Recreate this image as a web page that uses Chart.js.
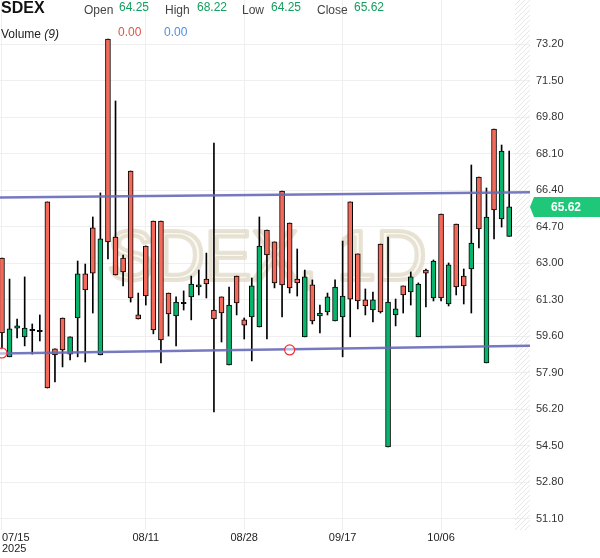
<!DOCTYPE html>
<html>
<head>
<meta charset="utf-8">
<script src="https://cdn.jsdelivr.net/npm/chart.js@4.4.1/dist/chart.umd.min.js"></script>
<style>
    html, body { margin: 0; padding: 0; background: #fff; }
    #wrap { position: relative; width: 600px; height: 558px; font-family: Arial, "Liberation Sans", sans-serif; }
    #grafica { position: absolute; left: 0; top: 0; }
    .hd { position: absolute; white-space: nowrap; font-size: 12px; line-height: 12px; color: #444; pointer-events: none; }
    .sym { font-size: 16px; line-height: 16px; font-weight: bold; color: #111; }
    .up { color: #12a05c; }
    .rojo { color: #e0533f; }
    .azul { color: #4c8fe8; }
</style>
</head>
<body>
<div id="wrap">
    <canvas id="grafica" width="600" height="558"></canvas>
    <div class="hd sym" style="left:1px; top:0px;">SDEX</div>
    <div class="hd" style="left:84px; top:4px;">Open</div>
    <div class="hd up" style="left:119px; top:1px;">64.25</div>
    <div class="hd" style="left:165px; top:4px;">High</div>
    <div class="hd up" style="left:197px; top:1px;">68.22</div>
    <div class="hd" style="left:242px; top:4px;">Low</div>
    <div class="hd up" style="left:271px; top:1px;">64.25</div>
    <div class="hd" style="left:317px; top:4px;">Close</div>
    <div class="hd up" style="left:354px; top:1px;">65.62</div>
    <div class="hd" style="left:1px; top:28px; color:#222;">Volume <i>(9)</i></div>
    <div class="hd rojo" style="left:118px; top:26px;">0.00</div>
    <div class="hd azul" style="left:164px; top:26px;">0.00</div>
</div>
<script>
// Datos (velas diarias)
const fechas = [
    "07/15", "07/16", "07/17", "07/18", "07/21", "07/22", "07/23", "07/24", "07/25", "07/28",
    "07/29", "07/30", "07/31", "08/01", "08/04", "08/05", "08/06", "08/07", "08/08", "08/11",
    "08/12", "08/13", "08/14", "08/15", "08/18", "08/19", "08/20", "08/21", "08/22", "08/25",
    "08/26", "08/27", "08/28", "08/29", "09/02", "09/03", "09/04", "09/05", "09/08", "09/09",
    "09/10", "09/11", "09/12", "09/15", "09/16", "09/17", "09/18", "09/19", "09/22", "09/23",
    "09/24", "09/25", "09/26", "09/29", "09/30", "10/01", "10/02", "10/03", "10/06", "10/07",
    "10/08", "10/09", "10/10", "10/13", "10/14", "10/15", "10/16", "10/17"
];
const aperturas = [
    63.24, 58.64, 59.98, 59.57, 59.89, 59.84, 65.85, 59.01, 60.45, 58.77,
    60.45, 62.50, 64.64, 58.73, 73.43, 64.22, 63.24, 67.29, 60.59, 63.80,
    64.96, 64.96, 61.61, 60.54, 61.15, 61.43, 61.89, 62.26, 60.82, 61.43,
    58.26, 62.40, 60.36, 60.50, 60.03, 64.54, 63.99, 66.36, 64.87, 62.26,
    59.57, 61.99, 60.54, 60.73, 60.31, 60.50, 65.85, 63.43, 61.29, 60.82,
    63.89, 54.45, 60.59, 61.94, 61.66, 59.57, 62.68, 61.38, 65.29, 61.10,
    64.82, 62.40, 62.73, 67.01, 58.36, 69.24, 65.06, 64.25
];
const maximos = [
    63.24, 62.26, 60.40, 62.36, 60.17, 60.59, 65.85, 59.01, 60.45, 59.57,
    63.10, 62.96, 65.15, 66.27, 73.43, 70.55, 63.38, 67.29, 61.61, 63.80,
    64.96, 64.96, 61.61, 61.43, 61.71, 62.40, 62.68, 63.47, 68.59, 61.43,
    61.89, 62.40, 60.45, 62.31, 65.15, 64.54, 63.99, 66.36, 64.87, 63.66,
    62.68, 62.22, 61.05, 61.61, 62.22, 64.03, 65.85, 63.43, 61.80, 61.66,
    63.89, 64.22, 61.33, 61.94, 62.59, 62.08, 62.73, 63.15, 65.29, 63.01,
    64.82, 62.73, 67.57, 67.01, 66.50, 69.24, 68.50, 68.22
];
const minimos = [
    59.01, 58.64, 59.52, 59.15, 58.77, 59.38, 57.19, 57.47, 58.17, 58.50,
    58.64, 58.40, 60.68, 58.73, 63.20, 62.45, 61.94, 61.19, 60.40, 61.05,
    59.71, 58.36, 59.61, 59.15, 60.82, 60.36, 61.52, 61.38, 56.08, 59.33,
    58.26, 60.59, 59.47, 58.45, 60.03, 59.47, 61.85, 60.50, 61.61, 61.47,
    59.57, 60.17, 59.75, 60.59, 60.31, 58.64, 59.57, 60.87, 60.59, 60.26,
    60.68, 54.45, 60.08, 60.68, 61.05, 59.57, 60.96, 61.24, 61.24, 61.01,
    61.52, 61.10, 60.68, 63.71, 58.36, 64.13, 64.68, 64.25
];
const cierres = [
    59.75, 59.94, 60.08, 59.98, 59.89, 59.84, 57.19, 58.73, 58.96, 59.57,
    62.50, 61.75, 62.54, 64.13, 63.99, 62.45, 62.59, 61.38, 60.40, 61.47,
    59.89, 59.43, 60.64, 61.19, 61.15, 62.03, 61.99, 62.03, 60.40, 60.68,
    61.05, 61.15, 60.12, 61.94, 63.80, 63.38, 62.08, 61.99, 61.85, 62.08,
    62.36, 60.31, 60.68, 61.43, 61.89, 61.47, 61.33, 61.24, 61.01, 61.29,
    60.73, 61.19, 60.87, 61.52, 62.36, 62.03, 62.54, 63.10, 61.38, 62.92,
    61.89, 61.94, 63.94, 64.59, 65.15, 65.48, 68.22, 65.62
];

// Etiquetas de ejes
const indicesFecha = [0, 19, 32, 45, 58];
const etiquetasFecha = [["07/15", "2025"], "08/11", "08/28", "09/17", "10/06"];
const ticksPrecio = [51.10, 52.80, 54.50, 56.20, 57.90, 59.60, 61.30, 63.00, 64.70, 66.40, 68.10, 69.80, 71.50, 73.20];

// Líneas de tendencia (extremo izquierdo, extremo derecho)
const lineaSuperior = [66.06, 66.30];
const lineaInferior = [58.80, 59.16];
// Puntos de anclaje (círculos rojos)
const anclaIndices = [0, 38];
const anclaValores = [58.82, 58.96];

const xMin = -0.26;
const xMax = 69.75;
const yMin = 50.58;
const yMax = 75.25;

const VERDE = "#06b46b";
const ROJO = "#f4695a";

const ultimoCierre = cierres[cierres.length - 1];

const mechas = fechas.map((f, i) => ({ x: i, y: [minimos[i], maximos[i]] }));
const cuerpos = fechas.map((f, i) => {
    const o = aperturas[i], c = cierres[i];
    return { x: i, y: o === c ? [o - 0.03, o + 0.03] : [o, c] };
});

function colorCuerpo(ctx) {
    const i = ctx.dataIndex;
    if (aperturas[i] === cierres[i]) return "#000";
    return cierres[i] > aperturas[i] ? VERDE : ROJO;
}

// Fondo: marca de agua y zona rayada
const fondoPlugin = {
    id: "fondo",
    beforeDatasetsDraw(chart) {
        const { ctx, chartArea } = chart;
        ctx.save();
        ctx.beginPath();
        ctx.rect(chartArea.left, chartArea.top, chartArea.right - chartArea.left, chartArea.bottom - chartArea.top);
        ctx.clip();
        // zona rayada a la derecha
        const x0 = chartArea.right - 15;
        ctx.strokeStyle = "#e6e6e6";
        ctx.lineWidth = 1;
        for (let y = chartArea.top - 20; y < chartArea.bottom + 20; y += 5) {
            ctx.beginPath();
            ctx.moveTo(x0, y + 15);
            ctx.lineTo(chartArea.right, y);
            ctx.stroke();
        }
        // marca de agua
        ctx.font = "70px Arial, 'Liberation Sans', sans-serif";
        ctx.textAlign = "center";
        ctx.textBaseline = "alphabetic";
        ctx.lineJoin = "round";
        ctx.fillStyle = "rgba(246,243,235,0.6)";
        ctx.fillText("SDEX, 1D", 267, 280);
        ctx.strokeStyle = "rgba(222,215,195,0.7)";
        ctx.lineWidth = 4;
        ctx.strokeText("SDEX, 1D", 267, 280);
        ctx.restore();
    },
    afterDraw(chart) {
        // etiqueta del último precio
        const { ctx, chartArea, scales } = chart;
        const y = scales.y.getPixelForValue(ultimoCierre);
        const x = chartArea.right;
        ctx.save();
        ctx.fillStyle = "#1ec878";
        ctx.beginPath();
        ctx.moveTo(x, y);
        ctx.lineTo(x + 4, y - 10);
        ctx.lineTo(600, y - 10);
        ctx.lineTo(600, y + 10);
        ctx.lineTo(x + 4, y + 10);
        ctx.closePath();
        ctx.fill();
        ctx.fillStyle = "#fff";
        ctx.font = "bold 12px Arial, 'Liberation Sans', sans-serif";
        ctx.textAlign = "center";
        ctx.textBaseline = "middle";
        ctx.fillText(ultimoCierre.toFixed(2), x + 36, y + 1);
        ctx.restore();
    }
};

const ctx = document.getElementById("grafica").getContext("2d");

new Chart(ctx, {
    type: "bar",
    data: {
        datasets: [
            {
                label: "wick",
                data: mechas,
                backgroundColor: "#000",
                borderWidth: 0,
                barThickness: 1,
                grouped: false,
                order: 3
            },
            {
                label: "body",
                data: cuerpos,
                backgroundColor: colorCuerpo,
                borderColor: "#000",
                borderWidth: 1,
                borderSkipped: false,
                barThickness: 5,
                grouped: false,
                order: 2
            },
            {
                type: "line",
                label: "upper",
                data: [{ x: xMin, y: lineaSuperior[0] }, { x: xMax, y: lineaSuperior[1] }],
                borderColor: "rgba(104,106,184,0.9)",
                borderWidth: 2.5,
                pointRadius: 0,
                order: 1
            },
            {
                type: "line",
                label: "lower",
                data: [{ x: xMin, y: lineaInferior[0] }, { x: xMax, y: lineaInferior[1] }],
                borderColor: "rgba(104,106,184,0.9)",
                borderWidth: 2.5,
                pointRadius: 0,
                order: 1
            },
            {
                type: "line",
                label: "anchors",
                data: anclaIndices.map((x, i) => ({ x, y: anclaValores[i] })),
                showLine: false,
                pointRadius: 5,
                pointBorderWidth: 1.2,
                pointBorderColor: "#f03030",
                pointBackgroundColor: "rgba(255,255,255,0.5)",
                order: 0
            }
        ]
    },
    options: {
        responsive: false,
        animation: false,
        layout: { padding: 0, autoPadding: false },
        plugins: {
            legend: { display: false },
            tooltip: { enabled: false }
        },
        scales: {
            x: {
                type: "linear",
                min: xMin,
                max: xMax,
                offset: false,
                grid: { offset: false, color: c => (c.index < indicesFecha.length ? "#efefef" : "rgba(0,0,0,0)"), drawTicks: false },
                border: { display: false },
                afterBuildTicks: s => {
                    s.ticks = indicesFecha.map(v => ({ value: v })).concat([{ value: xMax }]);
                },
                afterFit: s => {
                    s.height = 28;
                    s.paddingLeft = 0;
                    s.paddingRight = 0;
                },
                ticks: {
                    autoSkip: false,
                    maxRotation: 0,
                    align: "inner",
                    padding: 2,
                    color: "#222",
                    font: { size: 11, family: "Arial, 'Liberation Sans', sans-serif", lineHeight: 1.05 },
                    callback: (v, i) => (i < etiquetasFecha.length ? etiquetasFecha[i] : "")
                }
            },
            y: {
                type: "linear",
                position: "right",
                min: yMin,
                max: yMax,
                grid: { color: "#efefef", drawTicks: false },
                border: { display: false },
                afterBuildTicks: s => {
                    s.ticks = ticksPrecio.map(v => ({ value: v }));
                },
                afterFit: s => {
                    s.width = 70;
                    s.paddingTop = 0;
                    s.paddingBottom = 0;
                },
                ticks: {
                    padding: 6,
                    color: "#333",
                    font: { size: 11, family: "Arial, 'Liberation Sans', sans-serif" },
                    callback: v => Number(v).toFixed(2)
                }
            }
        }
    },
    plugins: [fondoPlugin]
});
</script>
</body>
</html>
